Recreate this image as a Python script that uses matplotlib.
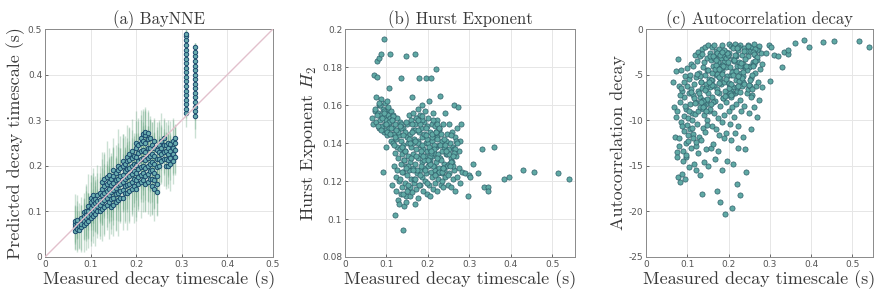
import matplotlib
matplotlib.use("Agg")
import matplotlib.pyplot as plt
import numpy as np

# ---- panel (a): BayNNE predictions, grouped by measured timescale ----
a_cols = [0.065, 0.07, 0.075, 0.08, 0.085, 0.09, 0.095, 0.1, 0.105, 0.11,
          0.115, 0.12, 0.125, 0.13, 0.135, 0.14, 0.145, 0.15, 0.155, 0.16,
          0.165, 0.17, 0.175, 0.18, 0.185, 0.19, 0.195, 0.2, 0.205, 0.21,
          0.215, 0.22, 0.225, 0.23, 0.235, 0.24, 0.245, 0.25, 0.255, 0.26,
          0.265, 0.27, 0.275, 0.28, 0.285, 0.31, 0.33]
a_pred = [
    [0.058, 0.065, 0.072, 0.078], [0.062, 0.07, 0.075, 0.082], [0.06, 0.068],
    [0.065, 0.072, 0.085], [0.07, 0.078, 0.09, 0.098], [0.075, 0.085, 0.095, 0.1],
    [0.08, 0.09, 0.1, 0.112], [0.085, 0.095, 0.108, 0.12, 0.13],
    [0.09, 0.1, 0.115, 0.125, 0.135], [0.095, 0.105, 0.118, 0.128],
    [0.1, 0.112, 0.122, 0.135], [0.1, 0.115, 0.125, 0.14],
    [0.105, 0.12, 0.135, 0.15, 0.165], [0.11, 0.125, 0.14, 0.155, 0.17],
    [0.115, 0.13, 0.145, 0.16, 0.175], [0.12, 0.135, 0.15, 0.165, 0.18],
    [0.11, 0.128, 0.142, 0.158, 0.172], [0.115, 0.13, 0.148, 0.162, 0.178, 0.19],
    [0.12, 0.138, 0.152, 0.168, 0.185], [0.125, 0.14, 0.158, 0.172, 0.19, 0.2],
    [0.13, 0.145, 0.16, 0.178, 0.195], [0.13, 0.148, 0.165, 0.18, 0.2, 0.21],
    [0.14, 0.155, 0.172, 0.188, 0.205], [0.14, 0.158, 0.175, 0.192, 0.21, 0.22],
    [0.145, 0.16, 0.178, 0.195, 0.212, 0.225], [0.15, 0.165, 0.182, 0.2, 0.218, 0.232],
    [0.155, 0.17, 0.188, 0.205, 0.222], [0.15, 0.168, 0.185, 0.202, 0.22, 0.238, 0.25],
    [0.16, 0.175, 0.192, 0.21, 0.228, 0.245], [0.165, 0.18, 0.198, 0.215, 0.232, 0.25, 0.262],
    [0.168, 0.185, 0.2, 0.218, 0.235, 0.255, 0.27],
    [0.16, 0.178, 0.195, 0.212, 0.23, 0.25, 0.268, 0.275],
    [0.165, 0.182, 0.2, 0.218, 0.238, 0.258, 0.272], [0.17, 0.188, 0.205, 0.222, 0.24, 0.26],
    [0.155, 0.172, 0.19, 0.208, 0.225, 0.245], [0.15, 0.168, 0.185, 0.205, 0.222, 0.24, 0.255],
    [0.142, 0.16, 0.178, 0.198, 0.215, 0.235], [0.2, 0.215, 0.23, 0.245],
    [0.21, 0.225, 0.24, 0.255], [0.215, 0.23, 0.245, 0.26], [0.2, 0.215, 0.232, 0.245],
    [0.2, 0.212, 0.225, 0.24, 0.25], [0.205, 0.218, 0.232, 0.248],
    [0.21, 0.225, 0.24, 0.255], [0.22, 0.235, 0.25, 0.262],
    [0.315, 0.325, 0.335, 0.345, 0.355, 0.365, 0.375, 0.385, 0.395, 0.405,
     0.415, 0.425, 0.435, 0.445, 0.455, 0.465, 0.475, 0.485, 0.49],
    [0.31, 0.32, 0.33, 0.34, 0.35, 0.36, 0.37, 0.38, 0.39, 0.40, 0.41, 0.42,
     0.43, 0.44, 0.45, 0.46],
]
a_err = [
    [0.03, 0.05, 0.04, 0.06], [0.05, 0.03, 0.06, 0.04], [0.04, 0.05],
    [0.05, 0.06, 0.03], [0.06, 0.04, 0.05, 0.03], [0.04, 0.07, 0.05, 0.06],
    [0.06, 0.05, 0.04, 0.07], [0.05, 0.07, 0.04, 0.06, 0.05],
    [0.06, 0.04, 0.07, 0.05, 0.06], [0.07, 0.05, 0.06, 0.04],
    [0.05, 0.06, 0.08, 0.05], [0.06, 0.07, 0.05, 0.06],
    [0.07, 0.05, 0.06, 0.08, 0.05], [0.06, 0.08, 0.05, 0.07, 0.06],
    [0.05, 0.07, 0.06, 0.05, 0.08], [0.08, 0.06, 0.07, 0.05, 0.06],
    [0.06, 0.05, 0.08, 0.07, 0.05], [0.07, 0.06, 0.05, 0.08, 0.06, 0.07],
    [0.06, 0.08, 0.07, 0.05, 0.06], [0.08, 0.06, 0.05, 0.07, 0.06, 0.08],
    [0.05, 0.07, 0.08, 0.06, 0.07], [0.07, 0.05, 0.06, 0.08, 0.07, 0.06],
    [0.06, 0.08, 0.07, 0.05, 0.06], [0.08, 0.06, 0.07, 0.06, 0.05, 0.07],
    [0.07, 0.08, 0.05, 0.06, 0.07, 0.06], [0.06, 0.07, 0.08, 0.05, 0.06, 0.07],
    [0.08, 0.06, 0.07, 0.06, 0.05], [0.07, 0.08, 0.06, 0.07, 0.05, 0.06, 0.07],
    [0.06, 0.07, 0.08, 0.05, 0.07, 0.06], [0.08, 0.06, 0.07, 0.06, 0.08, 0.05, 0.06],
    [0.07, 0.05, 0.08, 0.07, 0.06, 0.07, 0.05],
    [0.06, 0.08, 0.07, 0.05, 0.06, 0.07, 0.06, 0.05],
    [0.07, 0.06, 0.08, 0.07, 0.05, 0.06, 0.05], [0.08, 0.07, 0.06, 0.08, 0.06, 0.05],
    [0.06, 0.08, 0.07, 0.06, 0.07, 0.05], [0.07, 0.06, 0.08, 0.07, 0.05, 0.06, 0.05],
    [0.05, 0.07, 0.06, 0.08, 0.07, 0.06], [0.06, 0.05, 0.07, 0.05],
    [0.05, 0.06, 0.05, 0.06], [0.06, 0.05, 0.06, 0.04], [0.05, 0.06, 0.04, 0.05],
    [0.04, 0.06, 0.05, 0.06, 0.04], [0.06, 0.05, 0.04, 0.05],
    [0.05, 0.04, 0.06, 0.05], [0.04, 0.05, 0.04, 0.03],
    [0.03, 0.02, 0.02, 0.03, 0.02, 0.02, 0.03, 0.02, 0.02, 0.03,
     0.02, 0.02, 0.03, 0.02, 0.02, 0.03, 0.02, 0.02, 0.01],
    [0.05, 0.04, 0.03, 0.03, 0.02, 0.03, 0.02, 0.03, 0.02, 0.02, 0.03, 0.02,
     0.02, 0.03, 0.02, 0.01],
]

# ---- panels (b) and (c): same samples, measured decay timescale ----
meas_x = [
    0.066, 0.068, 0.07, 0.072, 0.074, 0.075, 0.077, 0.078, 0.08, 0.081,
    0.082, 0.083, 0.085, 0.086, 0.087, 0.088, 0.09, 0.091, 0.092, 0.093,
    0.094, 0.095, 0.096, 0.097, 0.098, 0.099, 0.1, 0.1, 0.101, 0.102,
    0.103, 0.104, 0.105, 0.106, 0.107, 0.108, 0.109, 0.11, 0.111, 0.112,
    0.113, 0.114, 0.115, 0.116, 0.117, 0.118, 0.119, 0.12, 0.12, 0.121,
    0.122, 0.123, 0.124, 0.125, 0.125, 0.126, 0.127, 0.128, 0.129, 0.13,
    0.13, 0.131, 0.132, 0.133, 0.134, 0.135, 0.135, 0.136, 0.137, 0.138,
    0.139, 0.14, 0.14, 0.141, 0.142, 0.143, 0.144, 0.145, 0.145, 0.146,
    0.147, 0.148, 0.149, 0.15, 0.15, 0.151, 0.152, 0.153, 0.154, 0.155,
    0.156, 0.157, 0.158, 0.159, 0.16, 0.16, 0.161, 0.162, 0.163, 0.164,
    0.165, 0.165, 0.166, 0.167, 0.168, 0.169, 0.17, 0.17, 0.171, 0.172,
    0.173, 0.174, 0.175, 0.175, 0.176, 0.177, 0.178, 0.179, 0.18, 0.18,
    0.181, 0.182, 0.183, 0.184, 0.185, 0.185, 0.186, 0.187, 0.188, 0.189,
    0.19, 0.19, 0.191, 0.192, 0.193, 0.194, 0.195, 0.195, 0.196, 0.197,
    0.198, 0.199, 0.2, 0.2,
    0.201, 0.202, 0.203, 0.204, 0.205, 0.205, 0.206, 0.207, 0.208, 0.209,
    0.21, 0.21, 0.211, 0.212, 0.213, 0.214, 0.215, 0.215, 0.216, 0.217,
    0.218, 0.219, 0.22, 0.22, 0.221, 0.222, 0.223, 0.224, 0.225, 0.226,
    0.227, 0.228, 0.229, 0.23, 0.231, 0.232, 0.233, 0.234, 0.235, 0.236,
    0.237, 0.238, 0.24, 0.241, 0.242, 0.244,
    0.246, 0.247, 0.248, 0.25, 0.251, 0.252, 0.254, 0.255, 0.256, 0.258,
    0.26, 0.261, 0.262, 0.264, 0.265, 0.266, 0.268, 0.27, 0.271, 0.272,
    0.274, 0.275, 0.277, 0.278, 0.28, 0.282,
    0.29, 0.298, 0.3, 0.302, 0.31, 0.32, 0.33, 0.335, 0.345, 0.345,
    0.36, 0.383, 0.396, 0.43, 0.455, 0.515, 0.54,
    # dense core
    0.132, 0.168, 0.205, 0.243, 0.151, 0.187, 0.224, 0.262, 0.141, 0.178,
    0.214, 0.252, 0.136, 0.173, 0.209, 0.247, 0.158, 0.195, 0.231, 0.268,
    0.145, 0.182, 0.219, 0.256, 0.163, 0.199, 0.237, 0.128, 0.171, 0.208,
    0.226, 0.154, 0.191, 0.228, 0.265, 0.139, 0.176, 0.213, 0.25, 0.161,
    0.198, 0.234, 0.147, 0.184, 0.221, 0.259, 0.167, 0.203, 0.24, 0.134,
    0.172, 0.211, 0.249, 0.157, 0.193, 0.23, 0.143, 0.18, 0.217, 0.255,
    0.165, 0.202, 0.238, 0.149, 0.186, 0.223, 0.261, 0.137, 0.175, 0.212,
    0.244, 0.159, 0.196, 0.233, 0.27, 0.146, 0.183, 0.22, 0.257, 0.169,
    0.206, 0.242, 0.152, 0.189, 0.227, 0.264, 0.138, 0.177, 0.215, 0.253,
    0.162, 0.2, 0.236, 0.148, 0.185, 0.222, 0.26, 0.133, 0.17, 0.207,
    0.072, 0.079, 0.084, 0.089, 0.095, 0.101, 0.106, 0.111, 0.116, 0.121,
    0.076, 0.083, 0.088, 0.093, 0.098, 0.104, 0.109, 0.114, 0.119, 0.124,
]
hurst_h2 = [
    0.153, 0.150, 0.176, 0.157, 0.151, 0.164, 0.175, 0.183, 0.156, 0.185,
    0.148, 0.160, 0.152, 0.187, 0.155, 0.163, 0.149, 0.125, 0.158, 0.195,
    0.154, 0.146, 0.161, 0.150, 0.138, 0.156, 0.152, 0.147, 0.162, 0.144,
    0.155, 0.158, 0.150, 0.169, 0.148, 0.187, 0.153, 0.145, 0.157, 0.141,
    0.152, 0.118, 0.148, 0.140, 0.155, 0.128, 0.145, 0.102, 0.135, 0.150,
    0.122, 0.142, 0.115, 0.138, 0.153, 0.126, 0.110, 0.147, 0.132, 0.108,
    0.144, 0.120, 0.137, 0.151, 0.113, 0.129, 0.174, 0.141, 0.117, 0.134,
    0.148, 0.094, 0.125, 0.139, 0.107, 0.131, 0.146, 0.119, 0.136, 0.186,
    0.112, 0.128, 0.143, 0.123, 0.150, 0.133, 0.116, 0.140, 0.126, 0.155,
    0.112, 0.145, 0.130, 0.152, 0.121, 0.138, 0.164, 0.114, 0.147, 0.127,
    0.134, 0.156, 0.119, 0.142, 0.108, 0.150, 0.129, 0.187, 0.137, 0.116,
    0.153, 0.124, 0.141, 0.132, 0.158, 0.111, 0.146, 0.174, 0.126, 0.139,
    0.118, 0.155, 0.134, 0.148, 0.122, 0.143, 0.130, 0.160, 0.115, 0.137,
    0.151, 0.127, 0.145, 0.120, 0.133, 0.157, 0.140, 0.174, 0.124, 0.149,
    0.113, 0.136, 0.128, 0.153,
    0.140, 0.118, 0.162, 0.131, 0.146, 0.112, 0.137, 0.125, 0.174, 0.150,
    0.122, 0.141, 0.133, 0.116, 0.156, 0.128, 0.144, 0.135, 0.119, 0.149,
    0.126, 0.138, 0.179, 0.130, 0.143, 0.115, 0.152, 0.134, 0.121, 0.147,
    0.139, 0.127, 0.165, 0.132, 0.118, 0.145, 0.136, 0.124, 0.141, 0.117,
    0.150, 0.129, 0.138, 0.156, 0.122, 0.134,
    0.128, 0.145, 0.118, 0.137, 0.150, 0.124, 0.140, 0.117, 0.132, 0.146,
    0.121, 0.138, 0.160, 0.126, 0.143, 0.115, 0.133, 0.148, 0.122, 0.159,
    0.136, 0.127, 0.141, 0.119, 0.150, 0.125,
    0.124, 0.112, 0.123, 0.122, 0.129, 0.124, 0.137, 0.117, 0.117, 0.115,
    0.138, 0.121, 0.122, 0.126, 0.125, 0.124, 0.121,
    # dense core
    0.121, 0.147, 0.133, 0.141, 0.128, 0.152, 0.124, 0.137, 0.144, 0.118,
    0.139, 0.129, 0.150, 0.126, 0.143, 0.134, 0.117, 0.148, 0.131, 0.141,
    0.136, 0.123, 0.146, 0.130, 0.140, 0.119, 0.127, 0.146, 0.153, 0.135,
    0.125, 0.142, 0.131, 0.148, 0.137, 0.113, 0.140, 0.128, 0.134, 0.150,
    0.142, 0.120, 0.127, 0.136, 0.150, 0.130, 0.121, 0.138, 0.126, 0.148,
    0.133, 0.145, 0.123, 0.140, 0.126, 0.139, 0.131, 0.150, 0.123, 0.144,
    0.126, 0.130, 0.142, 0.115, 0.139, 0.132, 0.128, 0.138, 0.147, 0.152,
    0.136, 0.132, 0.144, 0.125, 0.140, 0.151, 0.128, 0.146, 0.130, 0.141,
    0.129, 0.139, 0.118, 0.133, 0.148, 0.135, 0.125, 0.152, 0.137, 0.128,
    0.146, 0.131, 0.127, 0.109, 0.154, 0.142, 0.133, 0.149, 0.121, 0.136,
    0.158, 0.149, 0.160, 0.153, 0.157, 0.146, 0.151, 0.148, 0.154, 0.143,
    0.155, 0.161, 0.147, 0.156, 0.150, 0.159, 0.145, 0.152, 0.139, 0.147,
]
acf_decay = [
    -5.8, -8.5, -11.8, -4.6, -13.5, -9.0, -16.2, -3.3, -6.3, -12.0,
    -16.8, -8.0, -10.2, -4.5, -15.9, -6.8, -13.4, -9.5, -11.2, -7.5,
    -16.5, -5.2, -12.5, -8.8, -14.0, -4.3, -10.5, -6.2, -9.8, -12.3,
    -7.0, -15.1, -5.5, -11.0, -8.2, -3.8, -13.0, -6.6, -10.0, -9.2,
    -7.2, -11.5, -4.0, -14.8, -6.0, -9.3, -2.8, -12.8, -5.3, -8.0,
    -15.5, -3.5, -10.4, -6.8, -2.5, -13.6, -9.0, -4.8, -11.8, -7.5,
    -16.0, -3.0, -8.6, -5.8, -12.2, -2.2, -18.1, -6.5, -10.8, -4.2,
    -7.8, -14.6, -3.6, -9.4, -5.0, -11.3, -2.0, -8.2, -6.0, -13.2,
    -4.5, -10.0, -3.2, -7.0, -1.8, -15.0, -5.5, -9.0, -2.6, -6.4,
    -8.8, -3.4, -13.0, -5.6, -2.0, -10.6, -7.4, -4.0, -12.6, -6.2,
    -1.7, -9.2, -14.2, -3.0, -7.9, -5.0, -11.0, -2.4, -17.8, -6.6,
    -4.4, -9.8, -13.4, -3.8, -7.0, -2.2, -11.6, -5.4, -8.4, -19.0,
    -3.2, -6.0, -10.2, -4.6, -1.8, -15.5, -7.6, -2.8, -12.0, -5.8,
    -9.4, -3.6, -20.3, -6.8, -4.2, -8.0, -2.5, -11.4, -5.2, -14.5,
    -7.2, -3.0, -9.0, -1.6,
    -6.0, -2.6, -10.4, -4.2, -12.2, -7.4, -1.9, -5.0, -19.6, -8.6,
    -3.3, -14.8, -6.4, -2.0, -9.6, -4.6, -11.4, -7.0, -1.6, -5.6,
    -3.0, -8.2, -17.0, -4.0, -6.8, -13.0, -2.3, -10.6, -5.2, -3.6,
    -7.8, -1.8, -18.2, -4.8, -9.0, -2.8, -6.2, -11.8, -3.8, -5.8,
    -2.1, -8.4, -13.2, -4.4, -15.7, -7.0,
    -3.0, -6.6, -1.8, -9.2, -4.0, -2.4, -5.4, -11.0, -2.0, -7.2,
    -3.6, -1.6, -8.6, -4.8, -2.8, -6.2, -9.6, -3.4, -2.2, -5.8,
    -1.9, -7.8, -4.4, -2.6, -6.4, -3.8,
    -2.6, -1.7, -5.7, -2.0, -2.8, -3.0, -4.2, -2.5, -2.7, -2.3,
    -1.5, -1.2, -2.0, -1.4, -1.3, -1.3, -2.0,
    # dense core
    -5.2, -3.1, -6.8, -2.4, -4.5, -7.6, -2.0, -3.8, -8.4, -5.9,
    -3.5, -6.2, -2.7, -4.9, -7.1, -1.9, -5.6, -3.2, -4.1, -2.3,
    -6.5, -4.3, -2.9, -5.0, -8.0, -3.6, -6.0, -7.0, -2.6, -4.7,
    -5.7, -3.0, -7.3, -4.0, -2.2, -8.8, -5.3, -3.4, -6.1, -4.8,
    -2.8, -5.1, -7.8, -3.9, -6.4, -2.5, -4.4, -7.0, -3.3, -5.8,
    -6.9, -2.1, -4.2, -8.2, -5.5, -3.7, -6.7, -2.9, -4.6, -7.4,
    -3.2, -5.9, -2.4, -7.7, -4.0, -6.3, -2.7, -8.6, -3.6, -5.0,
    -4.5, -6.1, -2.6, -5.4, -3.1, -9.0, -4.9, -2.1, -6.6, -3.9,
    -7.2, -4.1, -5.8, -2.3, -6.9, -3.5, -7.9, -4.4, -2.8, -5.6,
    -3.0, -6.5, -4.7, -10.5, -2.5, -5.2, -4.0, -8.0, -3.4, -6.0,
    -9.6, -12.8, -6.5, -14.5, -8.4, -11.6, -5.0, -10.8, -7.6, -12.4,
    -14.0, -7.2, -10.6, -5.8, -13.8, -9.0, -6.9, -11.9, -8.1, -4.9,
]

titles = ["(a) BayNNE", "(b) Hurst Exponent", "(c) Autocorrelation decay"]
ylabels = ["Predicted decay timescale (s)", r"Hurst Exponent $H_2$",
           "Autocorrelation decay"]
xlabel = "Measured decay timescale (s)"

plt.rcParams["mathtext.fontset"] = "cm"
serif = {"family": "cmr10", "color": "#3a3a3a"}

fig = plt.figure(figsize=(8.77, 2.98), dpi=100)
pos = [[0.0513, 0.1376, 0.260, 0.765],
       [0.3934, 0.1376, 0.2622, 0.765],
       [0.7366, 0.1376, 0.2588, 0.765]]
axes = [fig.add_axes(p) for p in pos]

teal_face = "#5fa9a4"
teal_edge = "#2f5f6a"

# (a)
ax = axes[0]
xs, ys, es = [], [], []
for xc, col_y, col_e in zip(a_cols, a_pred, a_err):
    xs += [xc] * len(col_y)
    ys += col_y
    es += col_e
ax.errorbar(xs, ys, yerr=es, fmt="none", ecolor="#6aa784", alpha=0.35,
            elinewidth=1.0, zorder=2)
ax.scatter(xs, ys, s=10, facecolor="#6aaeb0", edgecolor="#1c4a6e",
           linewidths=0.7, zorder=3)
ax.plot([0, 0.5], [0, 0.5], color="#e2c0cc", lw=1.0, zorder=4)
ax.set_xlim(0, 0.5)
ax.set_ylim(0, 0.5)
ax.set_xticks([0, 0.1, 0.2, 0.3, 0.4, 0.5])
ax.set_yticks([0, 0.1, 0.2, 0.3, 0.4, 0.5])

# (b)
ax = axes[1]
ax.scatter(meas_x, hurst_h2, s=14, facecolor=teal_face, edgecolor=teal_edge,
           linewidths=0.5, zorder=3)
ax.set_xlim(0, 0.555)
ax.set_ylim(0.08, 0.2)
ax.set_xticks([0, 0.1, 0.2, 0.3, 0.4, 0.5])
ax.set_yticks([0.08, 0.1, 0.12, 0.14, 0.16, 0.18, 0.2])

# (c)
ax = axes[2]
ax.scatter(meas_x, acf_decay, s=14, facecolor=teal_face, edgecolor=teal_edge,
           linewidths=0.5, zorder=3)
ax.set_xlim(0, 0.55)
ax.set_ylim(-25, 0)
ax.set_xticks([0, 0.1, 0.2, 0.3, 0.4, 0.5])
ax.set_yticks([-25, -20, -15, -10, -5, 0])

for ax, t, yl in zip(axes, titles, ylabels):
    ax.set_title(t, fontdict=serif, fontsize=12, pad=3)
    ax.set_xlabel(xlabel, fontdict=serif, fontsize=13, labelpad=1)
    ax.set_ylabel(yl, fontdict=serif, fontsize=13, labelpad=2)
    ax.grid(True, color="#e6e6e6", lw=0.7, zorder=0)
    ax.set_axisbelow(True)
    ax.tick_params(direction="in", length=2, width=0.6, labelsize=6.5,
                   colors="#555555", pad=2)
    ax.xaxis.set_major_formatter(matplotlib.ticker.FuncFormatter(
        lambda v, p: ("%g" % round(v, 3))))
    ax.yaxis.set_major_formatter(matplotlib.ticker.FuncFormatter(
        lambda v, p: ("%g" % round(v, 3))))
    for s in ax.spines.values():
        s.set_color("#8a8a8a")
        s.set_linewidth(0.7)

fig.savefig("out.png", dpi=100)
